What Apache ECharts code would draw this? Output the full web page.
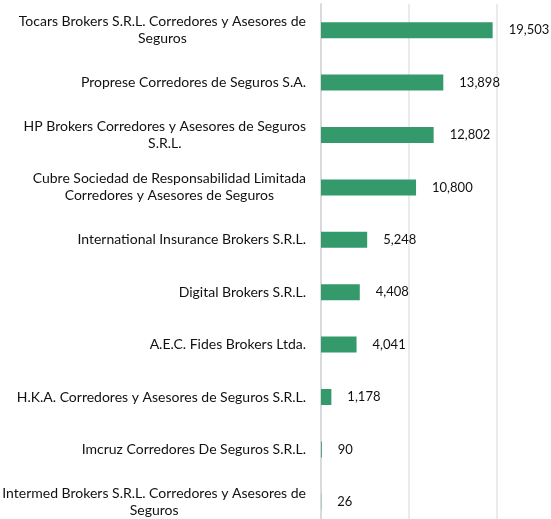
<!DOCTYPE html>
<html>
<head>
    <meta charset="utf-8"/>
    <title>Brokers</title>
    <style type="text/css">
        html, body { margin: 0; padding: 0; background: #fff; }
        #main { width: 551px; height: 519px; }
    </style>
    <script type="text/javascript" src="https://cdn.jsdelivr.net/npm/echarts@6/dist/echarts.min.js"></script>
</head>
<body>
<div id="main"></div>
<script type="text/javascript">
    // nombres de los corredores (de arriba hacia abajo)
    var categories = [
        'Tocars Brokers S.R.L. Corredores y Asesores de\nSeguros',
        'Proprese Corredores de Seguros S.A.',
        'HP Brokers Corredores y Asesores de Seguros\nS.R.L.',
        'Cubre Sociedad de Responsabilidad Limitada\nCorredores y Asesores de Seguros',
        'International Insurance Brokers S.R.L.',
        'Digital Brokers S.R.L.',
        'A.E.C. Fides Brokers Ltda.',
        'H.K.A. Corredores y Asesores de Seguros S.R.L.',
        'Imcruz Corredores De Seguros S.R.L.',
        'Intermed Brokers S.R.L. Corredores y Asesores de\nSeguros'
    ];
    var values = [19503, 13898, 12802, 10800, 5248, 4408, 4041, 1178, 90, 26];
    var axisMin = 0;
    var axisMax = 20000;
    var axisStep = 10000;

    var fontFamily = 'Lato, "Noto Sans", sans-serif';

    var myChart = echarts.init(document.getElementById('main'));

    var option = {
        animation: false,
        grid: {
            left: 321,
            width: 176,
            top: 4,
            height: 524,
            containLabel: false,
            outerBoundsMode: 'none'
        },
        xAxis: {
            type: 'value',
            min: axisMin,
            max: axisMax,
            interval: axisStep,
            axisLabel: { show: false },
            axisLine: { show: false },
            axisTick: { show: false },
            splitLine: {
                show: true,
                lineStyle: { color: '#ebebeb', width: 2 }
            }
        },
        yAxis: {
            type: 'category',
            inverse: true,
            data: categories,
            axisTick: { show: false },
            axisLine: {
                show: true,
                lineStyle: { color: '#d9d9de', width: 2 }
            },
            axisLabel: {
                margin: 15,
                formatter: function (v) {
                    // cada línea centrada
                    return v.split('\n').map(function (s) {
                        return '{c|' + s + '}';
                    }).join('\n');
                },
                rich: {
                    c: {
                        align: 'center',
                        fontFamily: fontFamily,
                        fontSize: 14,
                        lineHeight: 17,
                        color: '#111'
                    }
                }
            }
        },
        series: [{
            type: 'bar',
            data: values,
            barWidth: 16,
            itemStyle: {
                color: '#349a6c'
            },
            label: {
                show: true,
                position: 'right',
                distance: 16,
                fontFamily: fontFamily,
                fontSize: 13,
                color: '#111',
                formatter: function (p) {
                    return p.value.toLocaleString('en-US');
                }
            }
        }]
    };

    myChart.setOption(option);
</script>
</body>
</html>
